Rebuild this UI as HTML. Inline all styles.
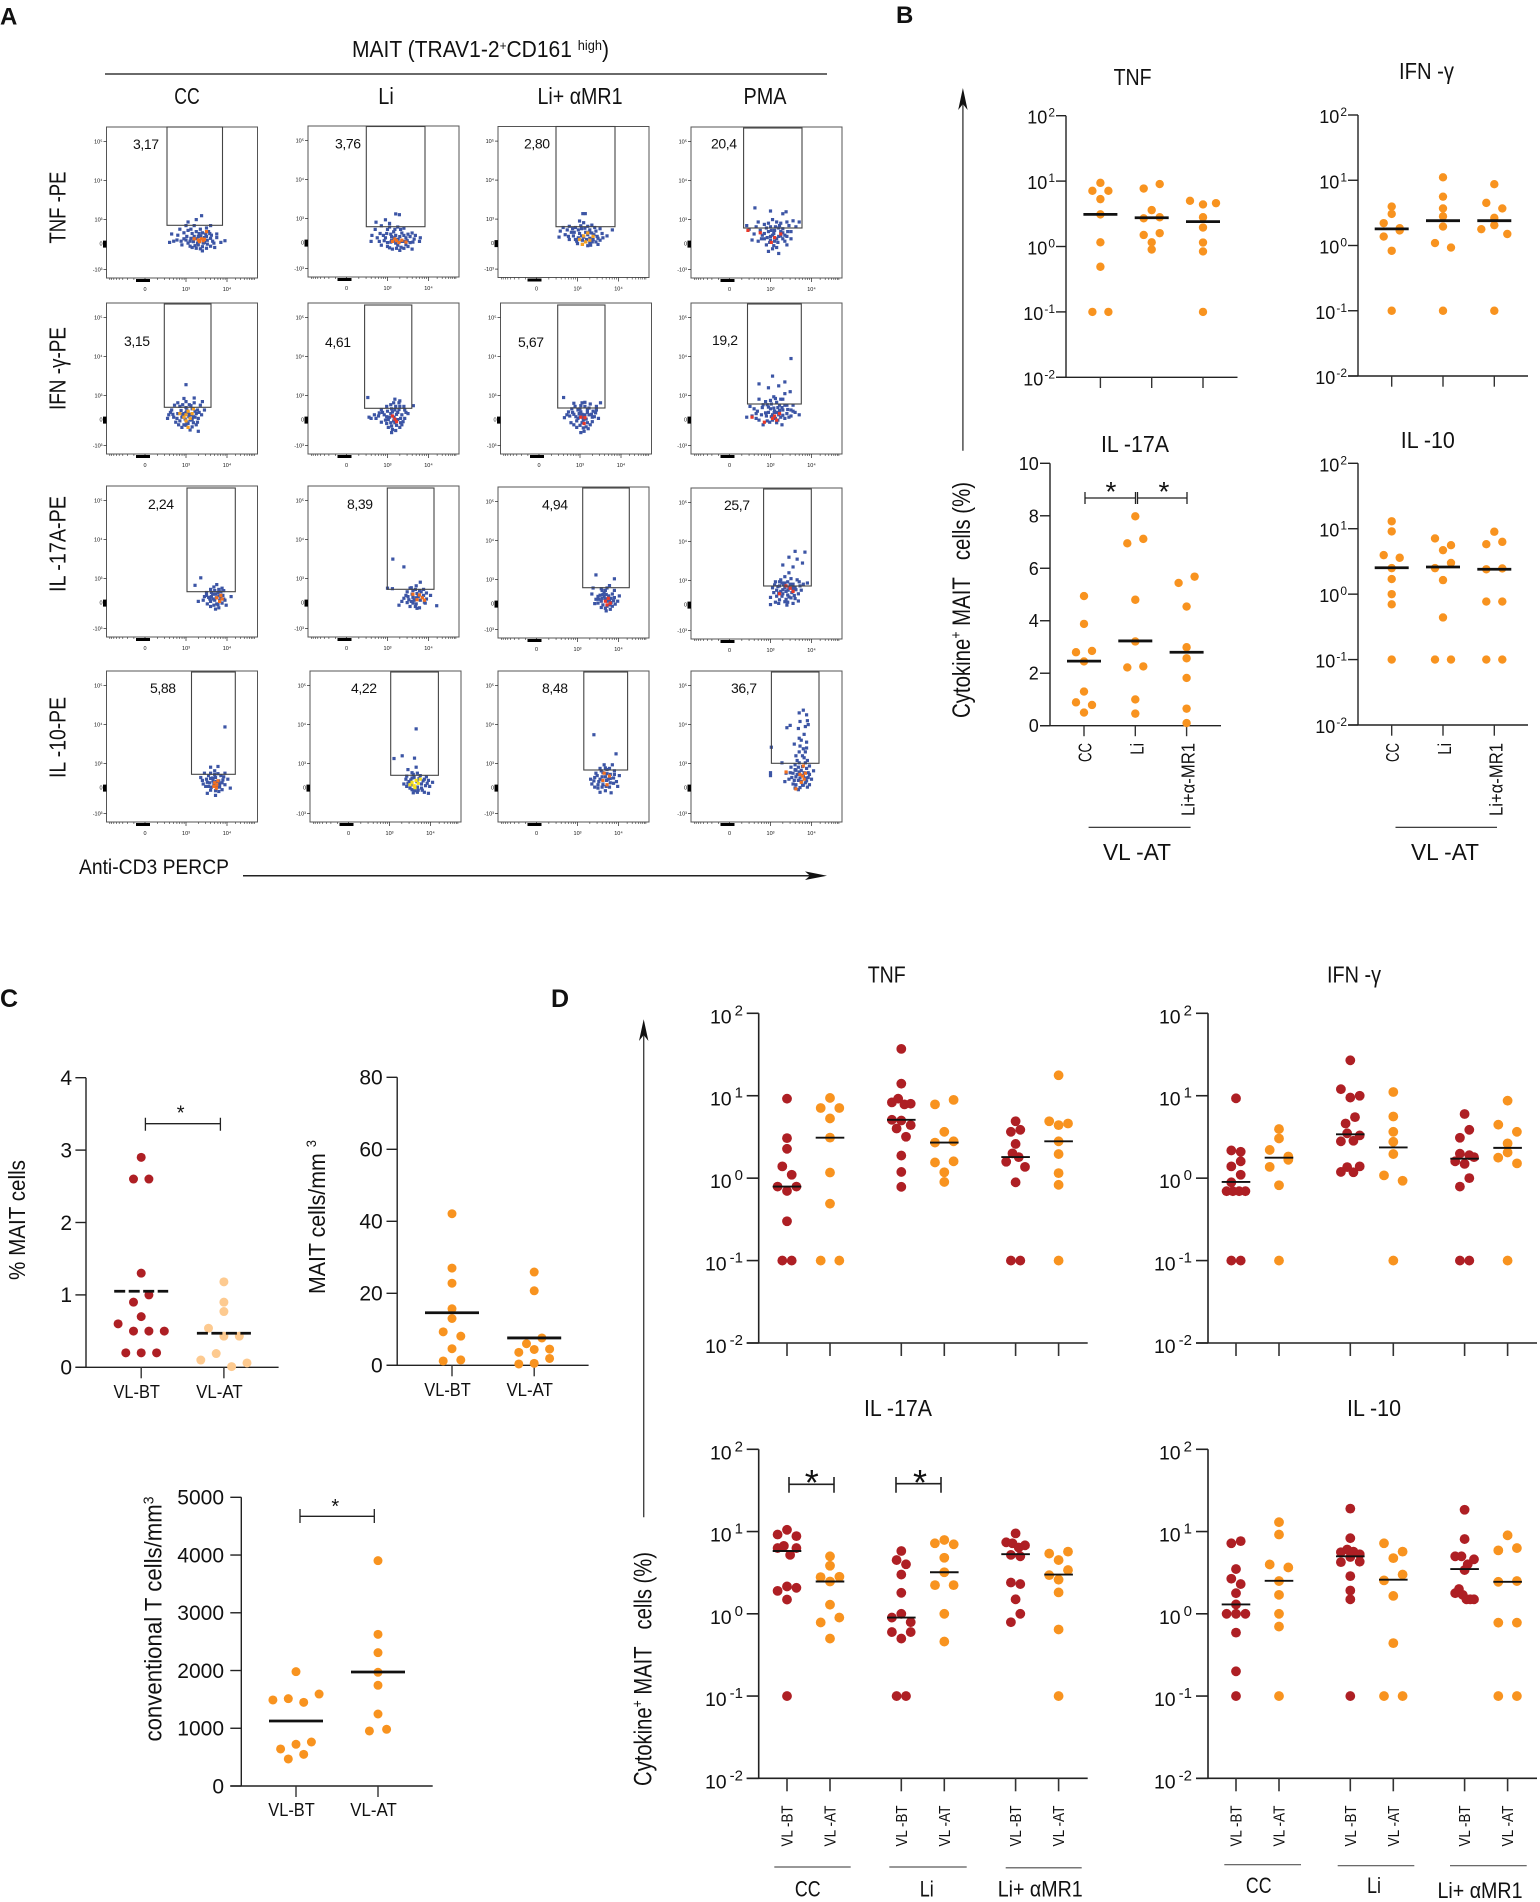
<!DOCTYPE html>
<html lang="en">
<head>
<meta charset="utf-8">
<title>MAIT cell cytokine production figure</title>
<style>
html,body{margin:0;padding:0;background:#fff;}
svg{display:block;font-family:"Liberation Sans",sans-serif;fill:#111;}
</style>
</head>
<body>
<svg id="figure" xmlns="http://www.w3.org/2000/svg" width="1540" height="1902" viewBox="0 0 1540 1902">
<rect x="0" y="0" width="1540" height="1902" fill="#fff"/>

<text x="0" y="24.5" font-size="24" font-weight="700">A</text>
<text x="896" y="23" font-size="24" font-weight="700">B</text>
<text x="0" y="1007" font-size="25" font-weight="700">C</text>
<text x="551" y="1007" font-size="25" font-weight="700">D</text>

<text x="352" y="57" font-size="23" textLength="257" lengthAdjust="spacingAndGlyphs">MAIT (TRAV1-2<tspan font-size="13" dy="-7">+</tspan><tspan dy="7">CD161 </tspan><tspan font-size="14" dy="-7">high</tspan><tspan dy="7">)</tspan></text>
<line x1="105" y1="74" x2="827" y2="74" stroke="#111" stroke-width="1.3"/>
<text x="187" y="104" font-size="23" text-anchor="middle" textLength="25.5" lengthAdjust="spacingAndGlyphs">CC</text>
<text x="386" y="104" font-size="23" text-anchor="middle" textLength="15.5" lengthAdjust="spacingAndGlyphs">Li</text>
<text x="580" y="104" font-size="23" text-anchor="middle" textLength="85" lengthAdjust="spacingAndGlyphs">Li+ αMR1</text>
<text x="765" y="104" font-size="23" text-anchor="middle" textLength="43" lengthAdjust="spacingAndGlyphs">PMA</text>

<text transform="rotate(-90 65.5 207.5)" x="65.5" y="207.5" font-size="23" text-anchor="middle" textLength="72" lengthAdjust="spacingAndGlyphs">TNF -PE</text>
<text transform="rotate(-90 65.5 368.5)" x="65.5" y="368.5" font-size="23" text-anchor="middle" textLength="83" lengthAdjust="spacingAndGlyphs">IFN -γ-PE</text>
<text transform="rotate(-90 65.5 544)" x="65.5" y="544" font-size="23" text-anchor="middle" textLength="96" lengthAdjust="spacingAndGlyphs">IL -17A-PE</text>
<text transform="rotate(-90 65.5 737.5)" x="65.5" y="737.5" font-size="23" text-anchor="middle" textLength="81" lengthAdjust="spacingAndGlyphs">IL -10-PE</text>

<text x="79" y="874" font-size="21" textLength="150" lengthAdjust="spacingAndGlyphs">Anti-CD3 PERCP</text>
<g>
<line x1="243" y1="875.7" x2="815" y2="875.7" stroke="#222" stroke-width="1.5"/>
<path d="M827 875.7 L805 871.4 L810 875.7 L805 880 Z" fill="#111"/>
</g>

<g>
<line x1="962.9" y1="96" x2="962.9" y2="450.7" stroke="#444" stroke-width="1.4"/>
<path d="M962.9 88 L958.2 110 L962.9 104 L967.6 110 Z" fill="#111"/>
</g>
<text transform="rotate(-90 970 600)" x="970" y="600" font-size="25" text-anchor="middle" textLength="236" lengthAdjust="spacingAndGlyphs">Cytokine<tspan font-size="15" dy="-9">+</tspan><tspan dy="9"> MAIT&#160;&#160; cells (%)</tspan></text>

<text x="1132.6" y="85" font-size="23" text-anchor="middle" textLength="38" lengthAdjust="spacingAndGlyphs">TNF</text>
<text x="1426.5" y="79" font-size="23" text-anchor="middle" textLength="55" lengthAdjust="spacingAndGlyphs">IFN -γ</text>
<text x="1135" y="452" font-size="23" text-anchor="middle" textLength="68" lengthAdjust="spacingAndGlyphs">IL -17A</text>
<text x="1427.8" y="448" font-size="23" text-anchor="middle" textLength="54" lengthAdjust="spacingAndGlyphs">IL -10</text>

<g stroke="#222" stroke-width="1.3" fill="none">
<path d="M1085 492V504M1085 498H1135.5M1135.5 492V504"/>
</g>
<g stroke="#222" stroke-width="1.3" fill="none">
<path d="M1137.5 492V504M1137.5 498H1187M1187 492V504"/>
</g>
<text x="1111" y="501" font-size="28" text-anchor="middle">*</text>
<text x="1164" y="501" font-size="28" text-anchor="middle">*</text>

<line x1="1088.6" y1="827.3" x2="1190.6" y2="827.3" stroke="#222" stroke-width="1.2"/>
<text x="1137" y="860" font-size="23" text-anchor="middle" textLength="68" lengthAdjust="spacingAndGlyphs">VL -AT</text>
<line x1="1395.5" y1="827.3" x2="1497" y2="827.3" stroke="#222" stroke-width="1.2"/>
<text x="1445" y="860" font-size="23" text-anchor="middle" textLength="68" lengthAdjust="spacingAndGlyphs">VL -AT</text>

<text transform="rotate(-90 25 1220)" x="25" y="1220" font-size="23" text-anchor="middle" textLength="120" lengthAdjust="spacingAndGlyphs">% MAIT cells</text>
<text transform="rotate(-90 325 1217)" x="325" y="1217" font-size="23" text-anchor="middle" textLength="154" lengthAdjust="spacingAndGlyphs">MAIT cells/mm <tspan font-size="14" dy="-9">3</tspan></text>
<text transform="rotate(-90 161.7 1619)" x="161.7" y="1619" font-size="24" text-anchor="middle" textLength="245" lengthAdjust="spacingAndGlyphs">conventional T cells/mm<tspan font-size="15" dy="-8">3</tspan></text>

<g stroke="#222" stroke-width="1.3" fill="none">
<path d="M145.4 1117.7V1130.7M145.4 1123.7H220.4M220.4 1117.7V1130.7"/>
</g>
<text x="180.6" y="1119.5" font-size="20" text-anchor="middle">*</text>
<g stroke="#222" stroke-width="1.3" fill="none">
<path d="M300 1509V1523M300 1516.3H374.3M374.3 1509V1523"/>
</g>
<text x="335.3" y="1513" font-size="20" text-anchor="middle">*</text>

<g>
<line x1="643.7" y1="1027" x2="643.7" y2="1517.3" stroke="#444" stroke-width="1.4"/>
<path d="M643.7 1019.3 L639 1041 L643.7 1035 L648.4 1041 Z" fill="#111"/>
</g>
<text transform="rotate(-90 651.7 1669)" x="651.7" y="1669" font-size="25" text-anchor="middle" textLength="234" lengthAdjust="spacingAndGlyphs">Cytokine<tspan font-size="15" dy="-9">+</tspan><tspan dy="9"> MAIT&#160;&#160; cells (%)</tspan></text>

<text x="886.7" y="982.7" font-size="23" text-anchor="middle" textLength="38" lengthAdjust="spacingAndGlyphs">TNF</text>
<text x="1354" y="982.7" font-size="23" text-anchor="middle" textLength="54" lengthAdjust="spacingAndGlyphs">IFN -γ</text>
<text x="898" y="1416" font-size="23" text-anchor="middle" textLength="68" lengthAdjust="spacingAndGlyphs">IL -17A</text>
<text x="1374" y="1416" font-size="23" text-anchor="middle" textLength="54" lengthAdjust="spacingAndGlyphs">IL -10</text>

<g stroke="#222" stroke-width="1.6" fill="none">
<path d="M789 1477V1492.7M789 1484.3H834M834 1477V1492.7"/>
</g>
<text x="811.7" y="1495" font-size="36" text-anchor="middle">*</text>
<g stroke="#222" stroke-width="1.6" fill="none">
<path d="M896 1477V1492.7M896 1483.7H941M941 1477V1492.7"/>
</g>
<text x="920" y="1495" font-size="36" text-anchor="middle">*</text>

<line x1="774.3" y1="1867" x2="850.7" y2="1867" stroke="#777" stroke-width="1.5"/>
<line x1="889.3" y1="1867" x2="966.7" y2="1867" stroke="#777" stroke-width="1.5"/>
<line x1="1005.7" y1="1867.7" x2="1081.7" y2="1867.7" stroke="#777" stroke-width="1.5"/>
<text x="807.7" y="1896.7" font-size="22" text-anchor="middle" textLength="25.7" lengthAdjust="spacingAndGlyphs">CC</text>
<text x="926.7" y="1896.7" font-size="22" text-anchor="middle" textLength="14" lengthAdjust="spacingAndGlyphs">Li</text>
<text x="1040.2" y="1896.7" font-size="22" text-anchor="middle" textLength="85" lengthAdjust="spacingAndGlyphs">Li+ αMR1</text>

<line x1="1224.3" y1="1864.7" x2="1301" y2="1864.7" stroke="#555" stroke-width="1.2"/>
<line x1="1337.7" y1="1865.7" x2="1414.3" y2="1865.7" stroke="#555" stroke-width="1.2"/>
<line x1="1450" y1="1865.7" x2="1526.7" y2="1865.7" stroke="#555" stroke-width="1.2"/>
<text x="1258.7" y="1893" font-size="22" text-anchor="middle" textLength="25.7" lengthAdjust="spacingAndGlyphs">CC</text>
<text x="1374" y="1893" font-size="22" text-anchor="middle" textLength="14" lengthAdjust="spacingAndGlyphs">Li</text>
<text x="1480" y="1898" font-size="22" text-anchor="middle" textLength="85" lengthAdjust="spacingAndGlyphs">Li+ αMR1</text>
</svg>

<script>
/* ---------- Panel B data: % cytokine-positive MAIT cells ---------- */
const bCategories = ['CC', 'Li', 'Li+α-MR1'];
const logExponents = [-2, -1, 0, 1, 2];
const b17Ticks = [0, 2, 4, 6, 8, 10];

const bTnfCC = [9.4, 7.1, 7.1, 5.3, 3.1, 1.16, 0.49, 0.1, 0.1];
const bTnfLi = [7.7, 9, 3.6, 2.7, 2.8, 1.5, 1.6, 1.16, 0.9];
const bTnfMr1 = [5, 4.4, 4.6, 2.8, 1.95, 1.15, 0.84, 0.1];
const bTnfMedians = [3.1, 2.75, 2.4];

const bIfnCC = [3.95, 3.05, 2.2, 1.84, 1.37, 1.7, 0.83, 0.1];
const bIfnLi = [11.1, 5.6, 3.7, 2.8, 1.95, 1.09, 0.93, 0.1];
const bIfnMr1 = [8.7, 4.5, 3.7, 2.65, 1.78, 2.05, 1.5, 0.1];
const bIfnMedians = [1.8, 2.4, 2.4];

const b17CC = [4.94, 3.88, 2.8, 2.85, 2.45, 1.3, 0.89, 0.79, 0.5];
const b17Li = [7.98, 6.95, 7.12, 4.8, 3.21, 2.22, 2.26, 1, 0.46];
const b17Mr1 = [5.44, 5.68, 4.54, 2.99, 2.57, 1.82, 0.65, 0.1];
const b17Medians = [2.46, 3.23, 2.8];

const b10CC = [13, 9.1, 3.95, 3.6, 2.5, 1.7, 1, 0.7, 0.1];
const b10Li = [7.1, 5.6, 4.7, 2.5, 3, 1.64, 0.44, 0.1, 0.1];
const b10Mr1 = [9, 5.8, 6.3, 2.4, 2.47, 0.77, 0.77, 0.1, 0.1];
const b10Medians = [2.53, 2.6, 2.4];

/* ---------- Panel C data ---------- */
const cCategories = ['VL-BT', 'VL-AT'];
const cPctTicks = [0, 1, 2, 3, 4];
const cCountTicks = [0, 20, 40, 60, 80];
const cConvTicks = [0, 1000, 2000, 3000, 4000, 5000];

const cPctBT = [2.9, 2.6, 2.6, 1.3, 0.9, 1, 0.7, 0.2, 0.2, 0.2, 0.6, 0.5, 0.5, 0.5];
const cPctAT = [1.18, 0.9, 0.77, 0.54, 0.43, 0.43, 0.1, 0.19, 0.01, 0.06];
const cPctMedians = [1.05, 0.47];

const cCountBT = [42.1, 27, 22.8, 15.7, 13, 9.3, 8.1, 4.6, 1.2, 1.5];
const cCountAT = [25.9, 20.7, 6, 7.6, 3.6, 4.4, 4.5, 0.37, 0.55, 1.9];
const cCountMedians = [14.6, 7.6];

const cConvBT = [1980, 1490, 1513, 1449, 1593, 641, 722, 762, 468, 548];
const cConvAT = [3903, 2627, 2309, 1969, 1744, 1247, 953, 982];
const cConvMedians = [1126, 1975];

/* ---------- Panel D data ---------- */
const dCategories = ['VL -BT', 'VL -AT', 'VL -BT', 'VL -AT', 'VL -BT', 'VL -AT'];

const dTnfCcBT = [9.2, 3.06, 2.27, 1.39, 1.1, 0.79, 0.7, 0.79, 0.3, 0.1, 0.1];
const dTnfCcAT = [9.4, 7.1, 7.1, 5.3, 3.1, 1.17, 0.49, 0.1, 0.1];
const dTnfLiBT = [37, 14, 8.3, 9.2, 7.85, 8, 5.1, 5, 4.4, 4, 3.18, 1.88, 1.19, 0.785];
const dTnfLiAT = [7.85, 8.9, 3.65, 2.7, 2.8, 1.55, 1.6, 1.18, 0.9];
const dTnfMrBT = [4.9, 3.65, 3.86, 2.6, 1.58, 2, 1.8, 1.37, 0.89, 0.1, 0.1];
const dTnfMrAT = [4.9, 4.4, 4.6, 2.8, 1.96, 1.15, 0.83, 0.1, 17.7];
const dTnfMedians = [0.79, 3.1, 5.1, 2.7, 1.8, 2.8];

const dIfnCcBT = [9.3, 2.17, 2.09, 1.39, 1.6, 0.89, 1.1, 0.695, 0.695, 0.695, 0.695, 0.1, 0.1];
const dIfnCcAT = [3.94, 3.03, 2.2, 1.83, 1.37, 1.67, 0.82, 0.1];
const dIfnLiBT = [26.9, 12, 9.5, 10, 4.6, 5.5, 2.8, 3.5, 2.84, 3.3, 1.19, 1.36, 1.18, 1.39];
const dIfnLiAT = [11.1, 5.6, 3.65, 2.76, 1.96, 1.08, 0.93, 0.1];
const dIfnMrBT = [6, 3.09, 3.86, 1.6, 1.98, 1.49, 1.9, 1.8, 0.79, 1, 0.1, 0.1];
const dIfnMrAT = [8.7, 4.45, 3.65, 2.64, 1.77, 2.05, 1.51, 0.1];
const dIfnMedians = [0.9, 1.77, 3.4, 2.36, 1.72, 2.33];

const d17CcBT = [9.2, 10.5, 8.8, 6.3, 6.7, 5.2, 6.3, 1.9, 2.15, 2.07, 1.49, 0.1];
const d17CcAT = [5, 3.84, 2.79, 2.47, 2.82, 1.29, 0.785, 0.9, 0.5];
const d17LiBT = [5.8, 4.5, 4, 3, 1.8, 0.9, 1, 0.79, 0.6, 0.5, 0.6, 0.1, 0.1];
const d17LiAT = [7.2, 7.9, 7, 4.8, 3.2, 2.23, 2.23, 1, 0.46];
const d17MrBT = [9.5, 7.4, 7.2, 6.4, 6.8, 5.2, 5, 2.4, 2.3, 1.5, 0.79, 1];
const d17MrAT = [5.4, 4.5, 5.7, 2.95, 2.6, 3.4, 1.82, 0.645, 0.1];
const d17Medians = [5.8, 2.47, 0.9, 3.2, 5.3, 3];

const d10CcBT = [7.2, 7.65, 3.5, 2.67, 2.3, 1.78, 1.3, 1, 1, 1, 0.59, 0.2, 0.1];
const d10CcAT = [13, 9.2, 3.98, 3.66, 2.5, 1.7, 1, 0.7, 0.1];
const d10LiBT = [19, 8.3, 5.6, 6.05, 5.7, 5.3, 4.25, 4.9, 4.3, 2.87, 1.92, 1.5, 0.1];
const d10LiAT = [7.2, 5.7, 4.75, 2.55, 3, 1.65, 0.44, 0.1, 0.1];
const d10MrBT = [18.4, 8.1, 5, 5, 4, 4.6, 3.4, 1.78, 2, 1.7, 1.5, 1.5, 1.5];
const d10MrAT = [9, 5.9, 6.3, 2.45, 2.5, 0.78, 0.78, 0.1, 0.1];
const d10Medians = [1.3, 2.52, 5, 2.6, 3.5, 2.45];

/* ---------- Panel A data: flow events as x,y,x,y… in decades (0 = 0, 1 = 10^3, 2 = 10^4, 3 = 10^5) ---------- */
const flowXTicks = [0, 1, 2];
const flowXTickLabels = ['0', '10³', '10⁴'];
const flowYTicks = [-1, 0, 1, 2, 3];
const flowYTickLabels = ['-10³', '0', '10³', '10⁴', '10⁵'];

const flowTnfCc = [1.33,.15,1.2,.3,1.45,.05,1.1,.1,1.5,.3,1.3,-.05,.95,.2,1.65,.1,1.25,.5,1.4,.45,.8,.35,1.75,.25,1.05,.55,1.6,-.1,1.15,-.15,1.35,-.2,.65,.4,1.85,.05,1,.75,1.5,.65,.7,.1,1.55,.5,1.2,.75,.9,-.05,1.7,-.15,1.4,-.28,1.05,.9,1.25,1,.85,.6,1.95,.12,1.6,.75,1.3,.3,1.15,.42,1.45,.25,1.02,.3,1.62,.35,1.28,.02,.78,.15,1.38,1.1,1.1,-.1,.6,.05,1.75,.4,.95,.45,1.52,-.02,
1.18,.08,1.27,.2,1.36,.32,1.42,.02,1.52,.14,1.6,.22,1.22,-.08,1.32,.42,1.12,.22,1.05,.02,1.4,-.12,1.5,-.18,1.25,-.18,1.58,.42,1.68,.02,1.12,.6,.88,.1,1.35,.6,1.48,.4,1.0,.15];
const flowTnfCcHot = [1.2,.2,1.3,.15,1.38,.2,1.42,.12,1.33,.08,1.5,.5,1.45,.18];
const flowTnfLi = [1.2,.1,1.1,.25,1.35,.05,1,0,1.45,.2,1.25,-.1,.9,.3,1.55,0,1.15,.45,1.35,.4,.75,.2,1.65,.15,1,.55,1.5,-.15,1.05,-.2,1.3,-.3,.62,.3,1.78,.05,.85,.7,1.4,.6,.6,.05,1.6,.4,1.05,.8,.85,-.1,1.6,-.25,.7,.55,.95,.95,1.2,1.12,1.29,1.1,1.8,.2,.72,.85,1.3,.25,1.1,.1,1.42,.05,.95,.2,1.5,.35,1.2,-.02,.8,.05,1.25,.65,1,-.15,1.4,-.22,
1.08,.02,1.16,.2,1.26,.14,1.33,-.18,1.4,.3,1.48,.08,1.55,.25,.92,.08,.98,.38,1.08,.35,1.18,.55,1.32,.55,1.12,-.25,1.22,-.22,1.45,-.08,1.62,.02,.82,.38,1.05,.65,1.68,.3,1.2,.3];
const flowTnfLiHot = [1.12,.05,1.22,.08,1.28,0,1.35,.1,1.45,.02,1.18,.15];
const flowTnfMr1 = [1.15,.25,1.05,.4,1.3,.2,.95,.15,1.4,.35,1.2,.05,.85,.45,1.5,.2,1.1,.6,1.3,.55,.7,.35,1.6,.4,.95,.65,1.45,.05,1,-.02,1.25,-.1,.58,.5,1.72,.3,.8,.7,1.35,.75,.55,.25,1.55,.6,1.15,.85,.8,.15,1.5,-.05,.65,.65,1.13,1.14,1.19,1.14,1.85,.55,1.05,.92,1.25,.35,1.12,.12,1.38,.15,.9,.3,1.45,.5,1.2,.45,1.32,-.08,.75,.55,
1.02,.22,1.1,.3,1.22,.15,1.28,.45,1.36,.05,1.48,.28,1.55,.12,.92,.45,.88,.6,1.02,.55,1.18,.62,1.35,.42,1.42,.65,1.62,.22,.78,.28,1.12,-.05,.98,.08,1.3,.02,1.08,.72,1.25,.7];
const flowTnfMr1Hot = [1.05,.15,1.15,.3,1.25,.42,1.3,.12,1.38,.28,1.2,.05,1.12,-.05];
const flowTnfPma = [1.05,.35,.95,.5,1.2,.3,.85,.2,1.3,.45,1.1,.1,.75,.55,1.4,.3,1,.7,1.2,.65,.6,.4,1.5,.5,.85,.8,1.35,.1,.9,-.05,1.15,-.15,.48,.6,1.62,.7,.7,.9,1.25,.85,.42,.75,1.45,.75,1.05,1,.7,.1,1.4,-.05,.55,.15,.95,-.3,1.2,-.38,.65,.7,1,1.22,1.3,1.15,1.55,.95,.62,1.3,1.1,.25,1,.3,1.3,.2,.8,.35,1.25,.5,1.1,.55,.9,.65,1.05,-.2,1.7,.9,1.38,1.2,
1.0,.15,1.08,.42,1.15,.2,1.18,.05,1.25,.32,1.02,.55,.92,.25,.85,.42,.98,.05,1.12,.7,1.3,.62,1.35,.35,1.42,.5,1.08,-.08,.78,.2,1.22,.75,1.4,.9,.95,.85,1.15,.9,1.5,.2];
const flowTnfPmaHot = [.45,.55,.75,.45,1.1,.25,1.25,.4,1.02,.05];

const flowIfnCc = [1.07,.12,1,.3,1.15,0,.9,.1,1.25,.25,1.05,-.15,.8,.25,1.3,.05,1,.5,1.15,.45,.7,.1,1.38,.2,.85,.55,1.25,-.2,.9,-.3,1.1,-.4,.58,.2,1.45,.4,.8,.7,1.2,.7,.55,.05,1.35,.6,1,.75,.75,-.1,1.3,-.45,.65,.4,.95,.88,1.2,.9,1,1.28,1.4,.75,1.12,.2,.95,.25,1.22,.1,.85,-.05,1.05,.3,1.28,-.1,1,-.22,1.15,-.28,.72,.6,
.92,.22,.98,.02,1.02,.4,1.08,.22,1.18,.12,1.22,.35,1.28,.4,.88,.38,.78,.05,.68,.22,1.12,.58,.92,.62,1.08,.62,1.02,-.1,1.18,-.12,1.32,.3,.82,-.2,.95,-.2,.62,.3,1.1,-.02];
const flowIfnCcHot = [.85,.25,.95,.1,1,.2,1.05,.35,1.1,.05,1.15,.25,1,-.05,1.05,-.3,1.18,.45];
const flowIfnLi = [1.16,.1,1.08,.25,1.25,0,.98,.12,1.35,.2,1.18,-.12,.88,.3,1.42,.05,1.1,.45,1.28,.42,.78,.15,1.5,.25,.98,.55,1.35,-.2,1.02,-.3,1.2,-.42,.68,.2,1.28,.7,1.15,.7,.55,.1,1.4,.55,1.3,.78,.85,-.1,1.1,-.5,.6,.05,.52,.92,1.3,-.3,1.05,.1,1.22,.22,1.15,-.05,.95,-.02,1.42,.4,1.1,-.25,.85,.42,1.63,.58,
1.02,.0,1.12,.32,1.18,.4,1.25,.3,1.32,.05,1.3,.55,1.2,.55,1.08,-.12,1.0,.35,.92,.2,1.38,-.08,1.22,-.22,1.12,-.38,.98,-.15,.72,.05,1.18,.85,1.08,.62,.8,.28,1.45,.3,1.32,-.12];
const flowIfnLiHot = [1.12,.15,1.18,.02,1.22,-.08];
const flowIfnMr1 = [1.07,.1,.98,.25,1.15,.02,.9,.12,1.22,.2,1.05,-.12,.82,.3,1.3,.1,1,.45,1.18,.42,.75,.15,1.38,.28,.88,.55,1.25,-.2,.92,-.3,1.1,-.45,.68,.2,1.45,.05,.85,.68,1.25,.65,.62,.08,1.4,.55,1.05,.7,.78,-.12,1.2,-.35,1.02,-.5,.6,.92,1.5,.7,1.12,.2,1.02,.32,1.08,-.02,.92,-.05,1.32,.35,1.15,-.28,
.95,.05,1.0,.12,1.05,.22,1.18,.3,1.22,.48,1.28,.22,1.12,.55,.95,.4,.85,.22,.8,.45,1.12,.72,1.35,.12,1.3,-.08,1.18,-.12,1.0,-.22,.85,-.2,1.08,-.32,1.4,.4,1.02,.58,.72,.32];
const flowIfnMr1Hot = [1.02,.1,1.12,.08,1.1,-.15];
const flowIfnPma = [1.09,.3,1,.45,1.2,.2,.9,.15,1.3,.4,1.12,.05,.8,.5,1.4,.25,1.02,.65,1.22,.6,.68,.35,1.5,.4,.88,.75,1.35,.05,.92,-.05,1.15,-.12,.55,.15,1.6,.3,.72,.85,1.3,.85,.42,.1,1.55,.6,1.08,.95,.72,-.02,1.45,.1,.6,.45,.95,1.2,1.2,1.25,.72,1.3,1.05,1.5,1.35,1.05,1.1,.35,1.18,.5,1.25,.1,.95,.3,1.05,.2,1.4,.6,1.7,.2,.82,-.2,1.28,-.2,.5,.55,.65,.05,1.48,1.1,1.35,1.35,1.5,1.95,.98,-.1,
1.02,.12,1.08,.48,1.15,.3,1.22,.38,1.3,.18,1.35,.6,.95,.52,.88,.28,.78,.2,1.0,.8,1.15,.72,1.25,.85,1.05,-.02,1.18,-.02,1.42,.42,1.5,.15,.65,.25,.92,.62,1.28,.5,1.12,.88,1.55,.35,.82,.62];
const flowIfnPmaHot = [.55,.1,1.05,.05,1.1,.15,1.15,-.02,1.22,.25,.85,-.1];

const flow17Cc = [1.74,.2,1.65,.35,1.82,.1,1.58,.15,1.9,.3,1.75,-.05,1.5,.3,1.95,.1,1.7,.5,1.85,.45,1.42,.1,2.1,.25,1.6,.55,1.8,-.2,1.6,-.15,1.72,-.25,1.3,.05,1.98,-.1,1.68,.65,1.75,.75,1.36,1.02,1.22,.72,1.88,.6,1.52,-.05,1.92,.5,1.7,.1,1.62,.25,1.8,.28,
1.55,.22,1.6,.05,1.66,.15,1.72,.35,1.78,.42,1.85,.2,1.92,.15,1.5,.42,1.62,.42,1.68,-.1,1.78,-.08,1.88,-.02,1.45,.25,1.8,.55];
const flow17CcHot = [1.75,.2,1.82,.05,1.85,.3,1.88,.15];
const flow17Li = [1.7,.2,1.6,.35,1.8,.1,1.52,.12,1.88,.3,1.7,-.05,1.45,.3,1.95,.15,1.62,.5,1.82,.45,1.35,.05,2.05,.3,1.55,.6,1.78,-.2,1.55,-.15,1.68,-.15,1.28,-.1,2.2,-.12,1.7,.7,1.8,.85,1.13,1.5,1.4,1.3,1,.6,1.12,.58,1.88,.55,1.48,0,1.92,-.02,1.65,.1,1.75,.25,
1.5,.25,1.58,.05,1.62,.22,1.72,.38,1.78,.5,1.85,.22,1.95,.4,1.48,.45,1.62,-.02,1.72,-.22,1.58,.62,1.9,.02,1.4,.18,1.68,.55];
const flow17LiHot = [1.62,.35,1.72,.12,1.78,.32,1.85,.2,1.9,.1];
const flow17Mr1 = [1.73,.1,1.65,.3,1.82,.05,1.58,.1,1.9,.25,1.72,-.1,1.5,.3,1.98,.1,1.65,.45,1.85,.4,1.42,0,2.02,.32,1.6,.55,1.8,-.22,1.58,-.15,1.7,-.28,1.38,.65,1.35,.4,1.72,.65,1.9,.55,1.45,1.12,1.9,1.02,1.78,.75,1.62,-.05,1.85,-.1,1.68,.2,1.78,.15,1.55,.35,
1.52,.18,1.6,.22,1.7,.38,1.76,.32,1.82,.22,1.88,.12,1.5,.02,1.62,.38,1.68,-.18,1.78,-.05,1.92,-.02,1.45,.18,1.68,.55,1.58,.62];
const flow17Mr1Hot = [1.68,.1,1.75,.22,1.8,.02,1.72,-.05];
const flow17Pma = [1.43,.6,1.35,.7,1.52,.5,1.25,.55,1.6,.7,1.42,.4,1.18,.75,1.68,.45,1.35,.9,1.55,.85,1.08,.5,1.75,.6,1.22,.95,1.6,.25,1.22,.2,1.42,.1,1,.3,1.8,.85,1.12,.95,1.5,1.05,1,0,1.65,1.02,1.35,1.1,1.12,.1,1.55,.05,1.45,1.2,1.55,1.35,1.3,1.4,1.65,1.55,1.45,1.6,1.78,1.45,1.84,1.73,1.6,1.75,1.3,.45,1.45,.7,1.55,.6,1.28,.35,1.4,-.02,1.2,.05,1.68,.15,1.05,.7,1.38,.22,1.7,.95,1.25,1.02,1.9,.9,
1.15,.6,1.22,.78,1.3,.62,1.38,.55,1.48,.85,1.58,.38,1.62,.62,1.32,.82,1.42,.95,1.15,.35,1.35,.12,1.5,.28,1.72,.78,1.2,.48,1.45,.32,1.1,.82,1.55,.72,1.28,.9];
const flow17PmaHot = [1.22,.45,1.38,.78,1.48,.68,1.55,.55];

const flow10Cc = [1.74,.25,1.65,.4,1.82,.15,1.58,.2,1.9,.32,1.75,.02,1.5,.35,1.95,.12,1.7,.55,1.85,.5,1.42,.15,2.08,-.02,1.6,.6,1.8,-.15,1.6,-.1,1.72,-.3,1.36,.42,2.02,.35,1.6,.85,1.78,.88,1.52,-.22,1.95,.6,1.95,1.94,1.68,.15,1.8,.28,1.55,.05,1.88,-.08,1.45,.6,
1.52,.22,1.6,.38,1.66,.28,1.72,.42,1.78,.58,1.88,.2,1.92,.45,1.48,.05,1.62,.02,1.72,-.12,1.82,.02,1.4,.3,1.7,.7,1.55,.5];
const flow10CcHot = [1.7,.2,1.75,.12,1.78,.28,1.68,.05,1.74,-.02];
const flow10Li = [1.67,.25,1.55,.4,1.78,.15,1.48,.25,1.85,.35,1.68,.02,1.4,.35,1.92,.18,1.58,.55,1.75,.5,1.35,.15,2.05,.22,1.55,.62,1.8,-.1,1.55,-.08,1.68,-.18,1.45,.75,1.95,-.22,1.65,.85,1.9,.45,1.65,1.89,1.11,1.13,1.31,1.2,1.61,1.14,1.42,.05,1.7,-.1,1.98,.05,1.52,.12,
1.45,.18,1.52,.32,1.6,.42,1.72,.38,1.82,.28,1.88,.08,1.5,-.02,1.62,-.12,1.78,-.02,1.42,.48,1.68,.6,1.95,.3,1.85,-.18,1.58,-.2];
const flow10LiHot = [1.5,.12,1.55,.22,1.6,.08,1.65,.3,1.7,.18,1.75,.35,1.62,0];
const flow10Mr1 = [1.71,.3,1.6,.45,1.8,.2,1.52,.25,1.88,.4,1.7,.05,1.42,.42,1.95,.25,1.62,.62,1.8,.55,1.35,.15,2.02,.5,1.55,.8,1.78,.8,1.5,-.02,1.68,-.12,1.32,.35,1.98,.05,1.65,.95,1.85,.95,1.42,.02,1.4,1.74,1.94,1.25,1.55,-.18,1.82,-.2,1.62,.12,1.75,.35,1.45,.6,1.9,.7,1.72,.75,
1.55,.35,1.62,.28,1.68,.45,1.72,.58,1.8,.38,1.88,.18,1.5,.12,1.6,.02,1.78,.02,1.4,.28,1.68,.82,1.58,.7,1.9,.55,1.48,.5];
const flow10Mr1Hot = [1.62,.3,1.72,.12,1.78,.48,1.65,.6];
const flow10Pma = [1.77,.5,1.7,.65,1.85,.4,1.62,.45,1.95,.55,1.75,.25,1.55,.6,2,.35,1.68,.85,1.88,.8,1.45,.35,2.05,.7,1.6,.95,1.8,.1,1.55,.15,1.72,0,1.38,.6,1.95,.12,1.65,1.08,1.9,1.08,1.78,1.2,1.62,1.2,1.85,1.3,1.72,1.45,1.88,1.55,1.7,1.65,1.82,1.75,1.68,1.9,1.85,1.95,1.72,2.08,1.9,2.1,1.7,2.3,1.8,2.37,1.88,2.25,1.92,2,1.4,1.92,1.48,1.98,1.58,1.5,1.02,1.42,1.28,1.02,1,.5,1,.62,1.62,.72,1.8,.5,1.68,.3,1.85,.2,1.5,.85,1.35,.25,1.6,-.02,1.92,.62,1.75,.72,1.95,.9,1.7,1.3,1.82,1.15,
1.58,.3,1.65,.55,1.72,.4,1.82,.62,1.88,.28,1.92,.42,1.6,.75,1.52,.42,1.48,.62,1.78,.88,1.85,1.02,1.7,1.02,1.62,.12,1.78,.1,1.9,.02,1.68,-.08,1.8,1.38,1.75,1.6,1.88,1.4];
const flow10PmaHot = [1.38,.65,1.72,.55,1.78,.48,1.85,.6,1.8,.9,1.75,.22,1.82,.35,1.62,-.05];

/* ---------- Drawing helpers ---------- */
const NS = 'http://www.w3.org/2000/svg';
const figure = document.getElementById('figure');
const BLACK = '#111';
const RED = '#ae1f24';
const ORANGE = '#f8931f';
const PEACH = '#fdca90';

function mk(tag, parent, name) {
  const el = document.createElementNS(NS, tag);
  
  
  parent.appendChild(el);
  return el;
}
function set(el, props) {
  for (const k in props) el.setAttribute(k, props[k]);
  return el;
}
function seg(parent, name, x1, y1, x2, y2, width, color) {
  return set(mk('line', parent, name), {x1, y1, x2, y2, 'stroke-width': width, stroke: color});
}
function label(parent, name, str, x, y, size, anchor) {
  const t = set(mk('text', parent, name), {x, y, 'font-size': size, 'text-anchor': anchor || 'middle'});
  t.textContent = str;
  return t;
}

/* ---------- Axis functions ---------- */
function logAxis(topPx, bottomPx) {
  return v => bottomPx - (Math.log10(v) + 2) / 4 * (bottomPx - topPx);
}
function linearAxis(topPx, bottomPx, max) {
  return v => bottomPx - v / max * (bottomPx - topPx);
}
function categoryAxis(start, step, gap) {
  return i => start + i * step + Math.floor(i / 2) * gap;
}

/* Beeswarm layout in the GraphPad style: neighbouring values on one row spread symmetrically. */
function swarmOffsets(ys, threshold, pair, step, maxHalf) {
  const offsets = [];
  let i = 0;
  while (i < ys.length) {
    let j = i + 1;
    while (j < ys.length && Math.abs(ys[j] - ys[i]) < threshold) j++;
    const n = j - i;
    for (let k = 0; k < n; k++) {
      if (n === 1) offsets.push(0);
      else if (n === 2) offsets.push(k === 0 ? -pair : pair);
      else {
        const half = Math.min(maxHalf, (n - 1) / 2 * step);
        offsets.push(-half + k * 2 * half / (n - 1));
      }
    }
    i = j;
  }
  return offsets;
}

function drawDotChart(c) {
  const g = mk('g', figure, c.name);
  const y = c.log ? logAxis(c.top, c.bottom) : linearAxis(c.top, c.bottom, c.max);
  const x = categoryAxis(c.xStart, c.xStep, c.xGap || 0);

  c.ticks.forEach(t => {
    const v = c.log ? Math.pow(10, t) : t;
    const py = y(v);
    seg(g, c.name + '-y-tick', c.axisX - c.tickLeft, py, c.axisX, py, c.axisWidth, '#222');
    if (c.log) {
      const lab = label(g, c.name + '-y-tick-label', '10', c.labelRight, py + c.baseDy, c.fontSize, 'end');
      const sup = set(mk('tspan', lab, c.name + '-y-tick-exponent'), {dy: c.supDy, dx: c.supDx, 'font-size': c.supSize});
      sup.textContent = String(t);
    } else {
      label(g, c.name + '-y-tick-label', String(t), c.labelRight, py + c.baseDy, c.fontSize, 'end');
    }
  });
  seg(g, c.name + '-y-axis', c.axisX, c.top, c.axisX, c.bottom, c.axisWidth, '#222');
  seg(g, c.name + '-x-axis', c.axisX - c.tickLeft, c.bottom, c.xEnd, c.bottom, c.axisWidth, '#222');

  c.series.forEach((values, i) => {
    const cx = x(i);
    seg(g, c.name + '-x-tick', cx, c.bottom, cx, c.bottom + c.tickDown, c.axisWidth, '#333');
    const ys = values.map(y);
    const color = c.colors[i];
    const pair = c.pairs[i];
    const offsets = swarmOffsets(ys, c.rowPx, pair, c.step, c.maxHalf);
    values.forEach((v, k) => {
      set(mk('circle', g, c.name + '-point'), {cx: cx + offsets[k], cy: ys[k], r: c.radius, fill: color});
    });
    const m = y(c.medians[i]);
    const med = seg(g, c.name + '-median', cx - c.medianHalf, m, cx + c.medianHalf, m, c.medianWidth, BLACK);
    if (c.dash) med.setAttribute('stroke-dasharray', c.dash);
  });
  return {g, x};
}

const commonB = {log: true, ticks: logExponents, tickLeft: 10, tickDown: 10.7, axisWidth: 1.4, fontSize: 18, supSize: 12,
  baseDy: 8, supDy: -7, supDx: 1, radius: 4.2, medianHalf: 17, medianWidth: 2.8, xStep: 51.3, rowPx: 7, pair: 8, step: 13, maxHalf: 13};
const threeOrange = [ORANGE, ORANGE, ORANGE];
const threePairs = [8, 8, 8];

drawDotChart(Object.assign({}, commonB, {name: 'b-tnf-chart', axisX: 1066, xEnd: 1237.5, top: 115.7, bottom: 377.3, xStart: 1100.4, labelRight: 1055,
  series: [bTnfCC, bTnfLi, bTnfMr1], medians: bTnfMedians, colors: threeOrange, pairs: threePairs}));
drawDotChart(Object.assign({}, commonB, {name: 'b-ifn-chart', axisX: 1358, xEnd: 1528, top: 115, bottom: 376, xStart: 1391.7, labelRight: 1347,
  series: [bIfnCC, bIfnLi, bIfnMr1], medians: bIfnMedians, colors: threeOrange, pairs: threePairs}));
const b10 = drawDotChart(Object.assign({}, commonB, {name: 'b-il10-chart', axisX: 1358, xEnd: 1528, top: 463.3, bottom: 725, xStart: 1391.7, labelRight: 1347,
  series: [b10CC, b10Li, b10Mr1], medians: b10Medians, colors: threeOrange, pairs: threePairs}));
const b17 = drawDotChart(Object.assign({}, commonB, {name: 'b-il17a-chart', log: false, max: 10, ticks: b17Ticks, axisX: 1050, xEnd: 1221, top: 463.3, bottom: 725.7, xStart: 1084, tickDown: 10.5,
  labelRight: 1038.8, baseDy: 6.5, series: [b17CC, b17Li, b17Mr1], medians: b17Medians, colors: threeOrange, pairs: threePairs}));

const bCategoryLengths = [19, 11.7, 73];
[b17, b10].forEach((chart, ci) => {
  bCategories.forEach((cat, i) => {
    const bx = chart.x(i) + (i === 0 ? 7.5 : 8);
    const t = label(chart.g, 'category-label', cat, bx, 743, 18.5, 'end');
    set(t, {transform: 'rotate(-90 ' + bx + ' 743)', textLength: bCategoryLengths[i], lengthAdjust: 'spacingAndGlyphs'});
  });
});

const commonC = {log: false, tickDown: 11, axisWidth: 1.4, fontSize: 21, baseDy: 7.3, radius: 4.5, medianHalf: 27, medianWidth: 2.8, rowPx: 8, step: 15.4, maxHalf: 23.1};
function cCategoryLabels(chart, baseY) {
  cCategories.forEach((cat, i) => {
    const t = label(chart.g, 'category-label', cat, chart.x(i) - 4.5, baseY, 18.5);
    set(t, {textLength: 46.5, lengthAdjust: 'spacingAndGlyphs'});
  });
}
cCategoryLabels(drawDotChart(Object.assign({}, commonC, {name: 'c-pct-chart', max: 4, ticks: cPctTicks, axisX: 86, xEnd: 278.6, top: 1077.7, bottom: 1367.3, tickLeft: 10.6, labelRight: 72,
  xStart: 141.2, xStep: 82.7, series: [cPctBT, cPctAT], medians: cPctMedians, colors: [RED, PEACH], pairs: [7.7, 17], dash: '11 3.5'})), 1398);
cCategoryLabels(drawDotChart(Object.assign({}, commonC, {name: 'c-count-chart', max: 80, ticks: cCountTicks, axisX: 397.2, xEnd: 588.6, top: 1077.3, bottom: 1365.3, tickLeft: 10.7, labelRight: 382.7,
  xStart: 452, xStep: 82.2, series: [cCountBT, cCountAT], medians: cCountMedians, colors: [ORANGE, ORANGE], pairs: [8.8, 7.7]})), 1396);
cCategoryLabels(drawDotChart(Object.assign({}, commonC, {name: 'c-conv-chart', max: 5000, ticks: cConvTicks, axisX: 241.3, xEnd: 432.7, top: 1497.3, bottom: 1786, tickLeft: 11, labelRight: 224,
  xStart: 296, xStep: 82, series: [cConvBT, cConvAT], medians: cConvMedians, colors: [ORANGE, ORANGE], pairs: [7.7, 8.6]})), 1816);

const commonD = {log: true, ticks: logExponents, tickLeft: 12, tickDown: 13, axisWidth: 1.6, fontSize: 19.5, supSize: 15, baseDy: 10, supDy: -8, supDx: 3,
  radius: 4.9, medianHalf: 14.3, medianWidth: 1.9, xStart: 787, xStep: 43, xGap: 28.3, rowPx: 8.5, step: 9.4, maxHalf: 9.4,
  colors: [RED, ORANGE, RED, ORANGE, RED, ORANGE], pairs: [4.7, 9.3, 4.7, 9.3, 4.7, 9.3]};

drawDotChart(Object.assign({}, commonD, {name: 'd-tnf-chart', axisX: 758.7, xEnd: 1087.7, top: 1013.3, bottom: 1343, labelRight: 743,
  series: [dTnfCcBT, dTnfCcAT, dTnfLiBT, dTnfLiAT, dTnfMrBT, dTnfMrAT], medians: dTnfMedians}));
drawDotChart(Object.assign({}, commonD, {name: 'd-ifn-chart', axisX: 1208, xEnd: 1537, top: 1013.3, bottom: 1343, labelRight: 1192, xStart: 1236,
  series: [dIfnCcBT, dIfnCcAT, dIfnLiBT, dIfnLiAT, dIfnMrBT, dIfnMrAT], medians: dIfnMedians}));
const d17 = drawDotChart(Object.assign({}, commonD, {name: 'd-il17a-chart', axisX: 758.7, xEnd: 1087.7, top: 1449.3, bottom: 1778.3, labelRight: 743,
  series: [d17CcBT, d17CcAT, d17LiBT, d17LiAT, d17MrBT, d17MrAT], medians: d17Medians}));
const d10 = drawDotChart(Object.assign({}, commonD, {name: 'd-il10-chart', axisX: 1208, xEnd: 1537, top: 1449.3, bottom: 1778.3, labelRight: 1192, xStart: 1236,
  series: [d10CcBT, d10CcAT, d10LiBT, d10LiAT, d10MrBT, d10MrAT], medians: d10Medians}));
[d17, d10].forEach(chart => {
  dCategories.forEach((cat, i) => {
    const bx = chart.x(i) + 5.5;
    const t = label(chart.g, 'category-label', cat, bx, 1826, 16);
    set(t, {transform: 'rotate(-90 ' + bx + ' 1826)', textLength: 41, lengthAdjust: 'spacingAndGlyphs'});
  });
});

/* ---------- Flow cytometry plots ---------- */
const FLOW_W = 151;
const FLOW_H = 151;
function flowXPos(left, u) { return left + 38.5 + 41 * u; }
function flowYPos(top, u) {
  if (u >= 1) return top + 92.6 - (u - 1) * 39;
  if (u >= 0) return top + 116.6 - u * 24;
  return top + 116.6 - u * 26;
}
function drawFlow(p) {
  const g = mk('g', figure, 'flow-plot-' + p.name);
  set(mk('rect', g, 'flow-plot-frame'), {x: p.left, y: p.top, width: FLOW_W, height: FLOW_H, fill: 'none', stroke: '#555', 'stroke-width': 1});
  const bottom = p.top + FLOW_H;
  flowXTicks.forEach((u, i) => {
    const px = flowXPos(p.left, u);
    seg(g, 'flow-x-tick', px, bottom, px, bottom + 4, 0.7, '#222');
    label(g, 'flow-x-tick-label', flowXTickLabels[i], px, bottom + 13, 5.5);
    if (u > 0) {
      for (let k = 2; k < 10; k++) {
        const mx = flowXPos(p.left, u - 1 + Math.log10(k));
        seg(g, 'flow-x-minor-tick', mx, bottom, mx, bottom + 2, 0.6, '#333');
      }
    }
  });
  for (let d = 2; d < 10; d++) {
    const mx = flowXPos(p.left, 2 + Math.log10(d) * 0.7);
    if (mx < p.left + FLOW_W) seg(g, 'flow-x-minor-tick', mx, bottom, mx, bottom + 2, 0.6, '#333');
    const lx = flowXPos(p.left, -Math.log10(d) * 0.9);
    if (lx > p.left) seg(g, 'flow-x-minor-tick', lx, bottom, lx, bottom + 2, 0.6, '#333');
  }
  set(mk('rect', g, 'flow-x-zero-cluster'), {x: flowXPos(p.left, 0) - 9, y: bottom + 1, width: 14, height: 3, fill: '#000'});
  flowYTicks.forEach((u, i) => {
    const py = flowYPos(p.top, u);
    seg(g, 'flow-y-tick', p.left - 3, py, p.left, py, 0.7, '#222');
    label(g, 'flow-y-tick-label', flowYTickLabels[i], p.left - 4, py + 2, 5.5, 'end');
  });
  set(mk('rect', g, 'flow-y-zero-cluster'), {x: p.left - 3.5, y: flowYPos(p.top, 0) - 3, width: 3.5, height: 7, fill: '#000'});

  const blue = p.events;
  for (let i = 0; i + 1 < blue.length; i += 2) {
    set(mk('rect', g, 'flow-event'), {x: flowXPos(p.left, blue[i]) - 1.6, y: flowYPos(p.top, blue[i + 1]) - 1.6, width: 3.2, height: 3.2, fill: '#3c55a5'});
  }
  const hot = p.hot;
  for (let i = 0; i + 1 < hot.length; i += 2) {
    set(mk('rect', g, 'flow-dense-event'), {x: flowXPos(p.left, hot[i]) - 1.6, y: flowYPos(p.top, hot[i + 1]) - 1.6, width: 3.2, height: 3.2, fill: p.hotColor});
  }
  const gate = set(mk('rect', g, 'flow-gate'), {x: p.gateLeft, y: p.gateTop, width: p.gateRight - p.gateLeft, height: p.gateBottom - p.gateTop, fill: 'none', stroke: '#444', 'stroke-width': 1.1});
  
  label(g, 'flow-gate-percent', p.percent, p.pctX, p.pctY, 14).setAttribute('textLength', 26);
}
const HOT_O = '#f2701f';
const HOT_A = '#f5a020';
const HOT_R = '#e8392a';
const HOT_Y = '#f7e01b';
[
 {name:'tnf-cc', left:106.5, top:127, gateLeft:167, gateRight:222.5, gateTop:127, gateBottom:225.3, percent:'3,17', pctX:146, pctY:149, events:flowTnfCc, hot:flowTnfCcHot, hotColor:HOT_O},
 {name:'tnf-li', left:308, top:126, gateLeft:366.3, gateRight:425, gateTop:126.5, gateBottom:226.7, percent:'3,76', pctX:348, pctY:148.5, events:flowTnfLi, hot:flowTnfLiHot, hotColor:HOT_O},
 {name:'tnf-li-amr1', left:498, top:126.5, gateLeft:556, gateRight:615, gateTop:126.5, gateBottom:226.7, percent:'2,80', pctX:537, pctY:148.5, events:flowTnfMr1, hot:flowTnfMr1Hot, hotColor:HOT_A},
 {name:'tnf-pma', left:691, top:127, gateLeft:743.6, gateRight:802, gateTop:128, gateBottom:228, percent:'20,4', pctX:724, pctY:148.5, events:flowTnfPma, hot:flowTnfPmaHot, hotColor:HOT_R},
 {name:'ifn-cc', left:106.5, top:303, gateLeft:164.3, gateRight:211, gateTop:304, gateBottom:407.3, percent:'3,15', pctX:137, pctY:346, events:flowIfnCc, hot:flowIfnCcHot, hotColor:HOT_A},
 {name:'ifn-li', left:308, top:303, gateLeft:364.6, gateRight:411.8, gateTop:305, gateBottom:408.3, percent:'4,61', pctX:338, pctY:347, events:flowIfnLi, hot:flowIfnLiHot, hotColor:HOT_R},
 {name:'ifn-li-amr1', left:500.5, top:303, gateLeft:557.7, gateRight:605, gateTop:305, gateBottom:408, percent:'5,67', pctX:531, pctY:347, events:flowIfnMr1, hot:flowIfnMr1Hot, hotColor:HOT_R},
 {name:'ifn-pma', left:691, top:303, gateLeft:747.5, gateRight:801.3, gateTop:304, gateBottom:404, percent:'19,2', pctX:725, pctY:345, events:flowIfnPma, hot:flowIfnPmaHot, hotColor:HOT_R},
 {name:'il17a-cc', left:106.5, top:486, gateLeft:187, gateRight:235.3, gateTop:488, gateBottom:591.7, percent:'2,24', pctX:161, pctY:509, events:flow17Cc, hot:flow17CcHot, hotColor:HOT_O},
 {name:'il17a-li', left:308, top:486, gateLeft:387.3, gateRight:434, gateTop:488, gateBottom:589.3, percent:'8,39', pctX:360, pctY:509, events:flow17Li, hot:flow17LiHot, hotColor:HOT_O},
 {name:'il17a-li-amr1', left:498, top:487, gateLeft:582.7, gateRight:629.3, gateTop:488, gateBottom:587.7, percent:'4,94', pctX:555, pctY:509.5, events:flow17Mr1, hot:flow17Mr1Hot, hotColor:HOT_R},
 {name:'il17a-pma', left:691, top:488, gateLeft:763.6, gateRight:811.3, gateTop:489, gateBottom:586, percent:'25,7', pctX:737, pctY:510, events:flow17Pma, hot:flow17PmaHot, hotColor:HOT_R},
 {name:'il10-cc', left:106.5, top:671, gateLeft:191.5, gateRight:235.3, gateTop:672, gateBottom:774.3, percent:'5,88', pctX:163, pctY:693, events:flow10Cc, hot:flow10CcHot, hotColor:HOT_O},
 {name:'il10-li', left:310, top:671, gateLeft:390.7, gateRight:438.4, gateTop:672, gateBottom:775.3, percent:'4,22', pctX:364, pctY:693, events:flow10Li, hot:flow10LiHot, hotColor:HOT_Y},
 {name:'il10-li-amr1', left:498, top:671, gateLeft:583.8, gateRight:627.6, gateTop:672, gateBottom:770, percent:'8,48', pctX:555, pctY:693, events:flow10Mr1, hot:flow10Mr1Hot, hotColor:HOT_O},
 {name:'il10-pma', left:691, top:671, gateLeft:771.4, gateRight:819, gateTop:672, gateBottom:763.3, percent:'36,7', pctX:744, pctY:693, events:flow10Pma, hot:flow10PmaHot, hotColor:HOT_O}
].forEach(drawFlow);
</script>
</body>
</html>
